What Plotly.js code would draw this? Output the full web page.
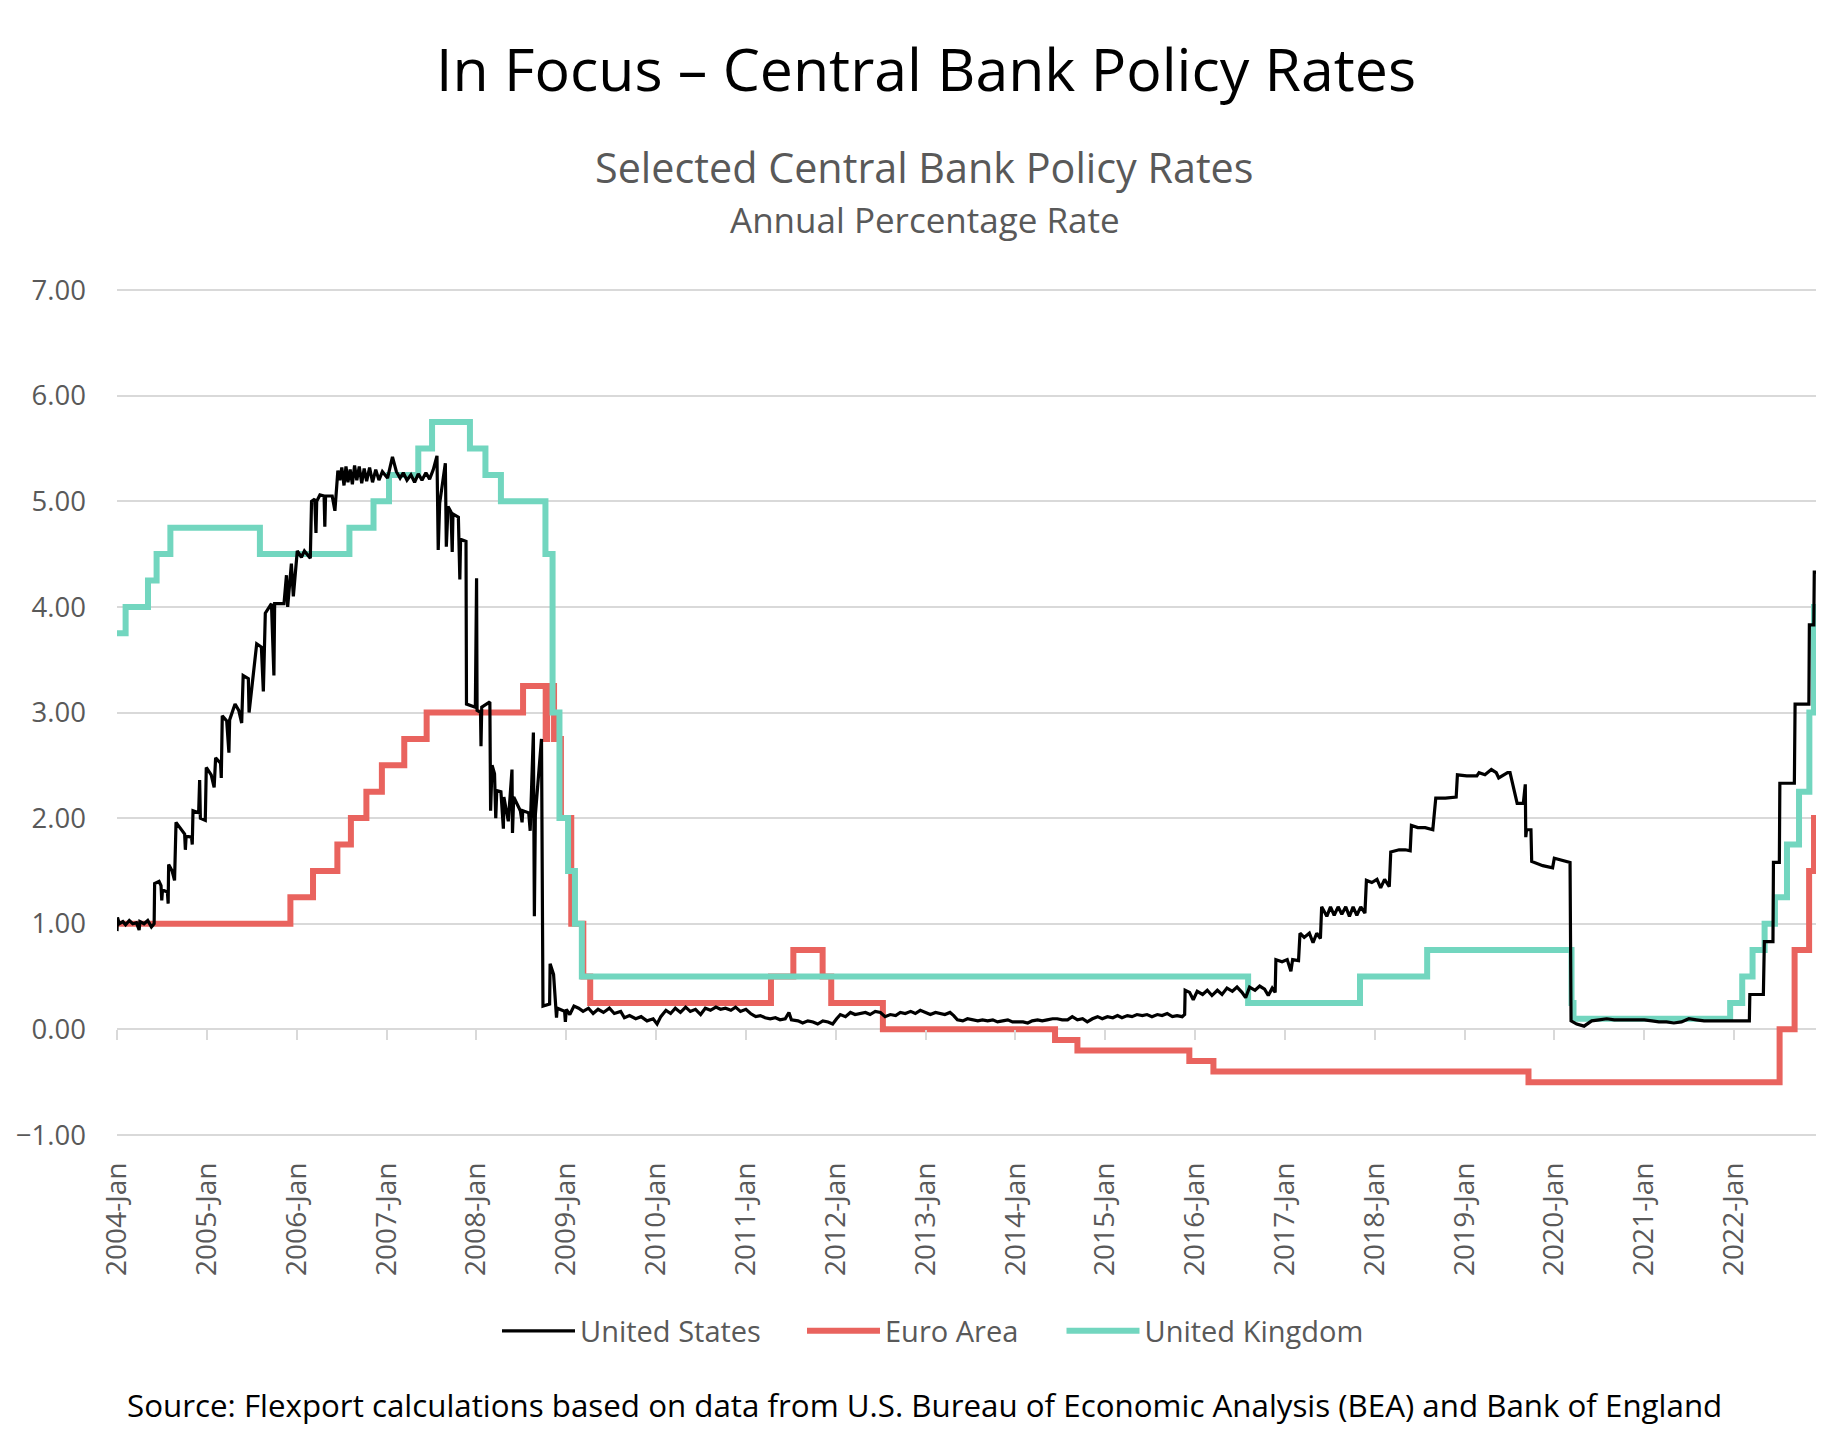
<!DOCTYPE html>
<html><head><meta charset="utf-8">
<script src="https://cdn.plot.ly/plotly-3.0.1.min.js"></script>
<style>html,body{margin:0;padding:0;background:#fff}</style>
</head><body>
<div id="chart" style="width:1845px;height:1441px"></div>
<script>
// ---------- DATA ----------
const seriesNames = ['United States', 'Euro Area', 'United Kingdom'];

const usDates = [
'2004-01-01','2004-01-03','2004-01-10','2004-01-25','2004-02-05','2004-02-20','2004-03-05','2004-03-20','2004-03-31','2004-04-03',
'2004-04-20','2004-05-05','2004-05-20','2004-05-31','2004-06-02','2004-06-20','2004-06-28','2004-07-01','2004-07-04','2004-07-24',
'2004-07-27','2004-07-29','2004-08-12','2004-08-22','2004-08-28','2004-09-20','2004-10-02','2004-10-05','2004-10-08','2004-10-30',
'2004-11-02','2004-11-05','2004-11-28','2004-12-02','2004-12-05','2004-12-25','2004-12-29','2005-01-18','2005-01-30','2005-02-05',
'2005-02-25','2005-02-28','2005-03-04','2005-03-22','2005-03-31','2005-04-03','2005-04-25','2005-05-10','2005-05-22','2005-05-28',
'2005-06-18','2005-06-21','2005-07-22','2005-08-10','2005-08-18','2005-08-26','2005-09-20','2005-09-30','2005-10-03','2005-11-10',
'2005-11-20','2005-11-25','2005-12-10','2005-12-18','2006-01-03','2006-01-20','2006-02-01','2006-02-25','2006-03-02','2006-03-15',
'2006-03-20','2006-03-23','2006-04-05','2006-04-22','2006-04-25','2006-04-28','2006-05-25','2006-06-05','2006-06-17','2006-06-25',
'2006-07-03','2006-07-12','2006-07-20','2006-07-28','2006-08-06','2006-08-15','2006-08-24','2006-09-02','2006-09-12','2006-09-22',
'2006-10-02','2006-10-12','2006-10-24','2006-11-05','2006-11-18','2006-12-01','2006-12-15','2007-01-05','2007-01-25','2007-02-10',
'2007-02-25','2007-03-10','2007-03-25','2007-04-10','2007-04-25','2007-05-10','2007-05-25','2007-06-10','2007-06-25','2007-07-10',
'2007-07-25','2007-07-30','2007-08-05','2007-08-28','2007-09-01','2007-09-08','2007-09-20','2007-09-25','2007-09-28','2007-10-20',
'2007-10-26','2007-10-29','2007-11-20','2007-11-22','2007-12-28','2008-01-02','2008-01-04','2008-01-18','2008-01-20','2008-01-23',
'2008-02-25','2008-02-28','2008-03-05','2008-03-15','2008-03-20','2008-03-24','2008-04-10','2008-04-20','2008-04-22','2008-05-10',
'2008-05-25','2008-05-27','2008-06-01','2008-06-28','2008-07-05','2008-07-08','2008-08-01','2008-08-07','2008-08-20','2008-08-24',
'2008-08-28','2008-09-22','2008-09-28','2008-10-25','2008-10-27','2008-11-10','2008-11-22','2008-11-25','2008-12-25','2008-12-28',
'2009-01-01','2009-01-15','2009-02-01','2009-02-20','2009-03-10','2009-04-01','2009-04-20','2009-05-10','2009-06-01','2009-06-25',
'2009-07-15','2009-08-10','2009-08-25','2009-09-15','2009-10-10','2009-11-01','2009-11-25','2009-12-20','2010-01-05','2010-01-20',
'2010-02-10','2010-03-01','2010-03-20','2010-04-10','2010-05-01','2010-05-20','2010-06-10','2010-07-01','2010-07-20','2010-08-10',
'2010-09-01','2010-09-20','2010-10-10','2010-11-01','2010-11-20','2010-12-10','2011-01-01','2011-01-20','2011-02-10','2011-03-01',
'2011-03-20','2011-04-10','2011-05-01','2011-05-20','2011-06-10','2011-06-25','2011-07-05','2011-08-01','2011-08-20','2011-09-10',
'2011-10-01','2011-10-20','2011-11-10','2011-12-01','2011-12-20','2012-01-05','2012-01-20','2012-02-10','2012-03-01','2012-03-20',
'2012-04-10','2012-05-01','2012-05-20','2012-06-10','2012-07-01','2012-07-20','2012-08-10','2012-09-01','2012-09-20','2012-10-10',
'2012-11-01','2012-11-20','2012-12-10','2013-01-01','2013-01-20','2013-02-10','2013-03-01','2013-03-20','2013-04-10','2013-04-25',
'2013-05-10','2013-06-01','2013-06-20','2013-07-10','2013-08-01','2013-08-20','2013-09-10','2013-10-01','2013-10-20','2013-11-10',
'2013-12-01','2013-12-20','2014-01-10','2014-02-01','2014-02-20','2014-03-10','2014-04-01','2014-04-20','2014-05-10','2014-06-01',
'2014-06-20','2014-07-10','2014-08-01','2014-08-20','2014-09-10','2014-10-01','2014-10-20','2014-11-10','2014-12-01','2014-12-20',
'2015-01-10','2015-02-01','2015-02-20','2015-03-10','2015-04-01','2015-04-20','2015-05-10','2015-06-01','2015-06-20','2015-07-10',
'2015-08-01','2015-08-20','2015-09-10','2015-10-01','2015-10-20','2015-11-10','2015-11-20','2015-11-22','2015-12-10','2015-12-25',
'2016-01-10','2016-02-01','2016-02-20','2016-03-10','2016-04-01','2016-04-20','2016-05-10','2016-06-01','2016-06-20','2016-07-10',
'2016-07-25','2016-08-10','2016-09-01','2016-09-20','2016-10-10','2016-10-25','2016-11-10','2016-11-22','2016-11-25','2016-12-20',
'2017-01-10','2017-01-25','2017-02-01','2017-02-25','2017-03-03','2017-03-20','2017-04-10','2017-04-25','2017-05-10','2017-05-25',
'2017-05-30','2017-06-20','2017-07-05','2017-07-20','2017-08-05','2017-08-20','2017-09-05','2017-09-20','2017-10-05','2017-10-20',
'2017-11-05','2017-11-22','2017-11-28','2017-12-20','2018-01-10','2018-01-25','2018-02-10','2018-03-01','2018-03-07','2018-04-10',
'2018-05-05','2018-05-25','2018-05-30','2018-06-25','2018-07-25','2018-08-25','2018-09-06','2018-10-15','2018-11-28','2018-12-03',
'2019-01-10','2019-02-20','2019-03-01','2019-03-25','2019-04-20','2019-05-10','2019-05-20','2019-06-10','2019-06-25','2019-07-05',
'2019-08-03','2019-08-28','2019-09-05','2019-09-07','2019-09-10','2019-09-28','2019-10-01','2019-11-15','2019-12-25','2020-01-01',
'2020-02-25','2020-03-05','2020-03-09','2020-04-01','2020-05-01','2020-06-01','2020-07-01','2020-08-01','2020-09-01','2020-10-01',
'2020-11-01','2020-12-01','2021-01-01','2021-02-01','2021-03-01','2021-04-01','2021-05-01','2021-06-01','2021-07-01','2021-08-01',
'2021-09-01','2021-10-01','2021-11-01','2021-12-01','2022-01-01','2022-02-01','2022-03-04','2022-03-06','2022-04-30','2022-05-04',
'2022-06-08','2022-06-10','2022-07-04','2022-07-06','2022-09-03','2022-09-06','2022-11-01','2022-11-03','2022-11-21','2022-11-23',
'2022-11-30'
];
const usRates = [
0.93,1.06,1.00,1.02,0.99,1.03,1.00,1.01,0.94,1.02,
1.00,1.03,0.97,1.00,1.38,1.40,1.36,1.22,1.32,1.30,
1.19,1.56,1.50,1.41,1.96,1.88,1.85,1.70,1.83,1.82,
1.75,2.07,2.05,2.36,2.00,1.98,2.48,2.41,2.29,2.57,
2.52,2.38,2.97,2.92,2.62,2.93,3.08,3.02,2.90,3.35,
3.32,3.00,3.65,3.62,3.20,3.94,4.03,3.35,4.03,4.03,
4.30,4.00,4.41,4.10,4.53,4.47,4.53,4.46,5.00,5.02,
4.70,5.00,5.06,5.05,4.76,5.05,5.05,4.91,5.29,5.20,
5.32,5.15,5.33,5.18,5.30,5.16,5.34,5.20,5.33,5.17,
5.31,5.19,5.32,5.18,5.30,5.20,5.28,5.22,5.42,5.28,
5.22,5.27,5.20,5.25,5.18,5.26,5.20,5.27,5.21,5.30,
5.43,4.54,4.98,5.36,4.57,4.95,4.90,4.52,4.88,4.85,
4.26,4.64,4.62,3.08,3.05,4.27,3.02,3.00,2.68,3.05,
3.10,2.07,2.50,2.42,2.00,2.26,2.25,1.90,2.20,1.97,
2.46,1.86,2.20,2.07,1.96,2.07,2.05,1.88,2.81,1.07,
2.03,2.75,0.22,0.24,0.62,0.52,0.11,0.20,0.17,0.07,
0.19,0.14,0.22,0.20,0.17,0.20,0.15,0.19,0.16,0.20,
0.15,0.17,0.11,0.13,0.10,0.12,0.08,0.10,0.05,0.12,
0.18,0.15,0.20,0.16,0.21,0.17,0.19,0.14,0.20,0.18,
0.21,0.19,0.20,0.18,0.21,0.17,0.19,0.15,0.12,0.13,
0.11,0.10,0.11,0.09,0.10,0.16,0.09,0.08,0.06,0.08,
0.07,0.05,0.08,0.07,0.05,0.10,0.14,0.12,0.16,0.14,
0.15,0.16,0.14,0.17,0.16,0.12,0.14,0.13,0.16,0.15,
0.17,0.15,0.18,0.16,0.14,0.16,0.15,0.14,0.16,0.13,
0.09,0.08,0.10,0.09,0.08,0.09,0.08,0.09,0.07,0.08,
0.09,0.07,0.07,0.07,0.06,0.08,0.09,0.08,0.09,0.10,
0.10,0.09,0.09,0.12,0.09,0.10,0.07,0.10,0.12,0.10,
0.12,0.11,0.13,0.11,0.13,0.12,0.14,0.13,0.14,0.12,
0.14,0.13,0.15,0.12,0.13,0.12,0.14,0.37,0.35,0.28,
0.36,0.33,0.37,0.32,0.37,0.33,0.39,0.36,0.40,0.35,
0.30,0.40,0.37,0.41,0.38,0.32,0.39,0.35,0.66,0.64,
0.66,0.55,0.66,0.65,0.91,0.87,0.91,0.82,0.91,0.86,
1.16,1.07,1.16,1.08,1.16,1.09,1.16,1.07,1.16,1.08,
1.16,1.10,1.41,1.39,1.42,1.34,1.42,1.35,1.68,1.70,
1.70,1.69,1.93,1.91,1.91,1.89,2.19,2.19,2.20,2.41,
2.40,2.40,2.43,2.41,2.46,2.43,2.38,2.41,2.43,2.43,
2.14,2.14,2.32,1.82,1.89,1.89,1.59,1.55,1.53,1.62,
1.58,1.58,0.08,0.05,0.03,0.08,0.09,0.10,0.09,0.09,
0.09,0.09,0.09,0.08,0.07,0.07,0.06,0.07,0.10,0.09,
0.08,0.08,0.08,0.08,0.08,0.08,0.08,0.33,0.33,0.83,
0.83,1.58,1.58,2.33,2.33,3.08,3.08,3.83,3.83,4.33,
4.33
];

const euroDates = ['2004-01-01','2005-12-06','2006-03-08','2006-06-15','2006-08-09','2006-10-11','2006-12-13','2007-03-14','2007-06-13',
'2008-07-09','2008-10-09','2008-10-15','2008-11-12','2008-12-10','2009-01-21','2009-03-11','2009-04-08','2011-04-13','2011-07-13',
'2011-11-09','2011-12-14','2012-07-11','2014-06-11','2014-09-10','2015-12-09','2016-03-16','2019-09-18','2022-07-05','2022-09-04',
'2022-11-02','2022-11-22','2022-11-30'];
const euroRates = [1.00,1.25,1.50,1.75,2.00,2.25,2.50,2.75,3.00,
3.25,2.75,3.25,2.75,2.00,1.00,0.50,0.25,0.50,0.75,
0.50,0.25,0.00,-0.10,-0.20,-0.30,-0.40,-0.50,0.00,0.75,
1.50,2.00,2.00];

const ukDates = ['2004-01-01','2004-02-05','2004-05-06','2004-06-10','2004-08-05','2005-08-04','2006-08-03','2006-11-09','2007-01-11',
'2007-05-10','2007-07-05','2007-12-06','2008-02-07','2008-04-10','2008-10-08','2008-11-06','2008-12-04','2009-01-08','2009-02-05',
'2009-03-05','2016-08-04','2017-11-02','2018-08-02','2020-03-11','2020-03-19','2021-12-16','2022-02-03','2022-03-17','2022-05-05',
'2022-06-16','2022-08-04','2022-09-22','2022-11-03','2022-11-22','2022-11-30'];
const ukRates = [3.75,4.00,4.25,4.50,4.75,4.50,4.75,5.00,5.25,
5.50,5.75,5.50,5.25,5.00,4.50,3.00,2.00,1.50,1.00,
0.50,0.25,0.50,0.75,0.25,0.10,0.25,0.50,0.75,1.00,
1.25,1.75,2.25,3.00,4.00,4.00];

const tickYears = [2004,2005,2006,2007,2008,2009,2010,2011,2012,2013,2014,2015,2016,2017,2018,2019,2020,2021,2022];
const yTickValues = [-1,0,1,2,3,4,5,6,7];

// ---------- STYLE ----------
const FONT = 'Open Sans, Noto Sans, sans-serif';
const GRID = '#d9d9d9';
const GRAYTXT = '#595959';
const colors = {us: '#000000', euro: '#E9635E', uk: '#72D6BF'};

const tickVals = tickYears.map(y => y + '-01-01');
const tickText = tickYears.map(y => y + '-Jan');
const xRange = ['2004-01-01', '2022-11-30'];
const yRange = [-1.01, 7.01];

const traces = [
  {x: euroDates, y: euroRates, name: seriesNames[1], type: 'scatter', mode: 'lines',
   line: {color: colors.euro, width: 6, shape: 'hv'}, xaxis: 'x', yaxis: 'y', legend: 'legend2'},
  {x: ukDates, y: ukRates, name: seriesNames[2], type: 'scatter', mode: 'lines',
   line: {color: colors.uk, width: 6, shape: 'hv'}, xaxis: 'x', yaxis: 'y', legend: 'legend3'},
  {x: usDates, y: usRates, name: seriesNames[0], type: 'scatter', mode: 'lines',
   line: {color: colors.us, width: 3.2}, xaxis: 'x2', yaxis: 'y', legend: 'legend'}
];

const L = 117, R = 29, T = 289, B = 305;
const plotH = 1441 - T - B, plotW = 1845 - L - R;
const py = px => (1441 - B - px) / plotH;   // page y -> paper y
const pxX = px => (px - L) / plotW;         // page x -> paper x
const zeroPos = (0 - yRange[0]) / (yRange[1] - yRange[0]);

const legendBase = (xpx) => ({orientation: 'h', x: pxX(xpx), xanchor: 'left', y: py(1331), yanchor: 'middle',
  font: {family: FONT, size: 29, color: GRAYTXT}, itemwidth: 73, bgcolor: 'rgba(0,0,0,0)', borderwidth: 0});

const layout = {
  width: 1845, height: 1441,
  margin: {l: L, r: R, t: T, b: B},
  paper_bgcolor: '#ffffff', plot_bgcolor: '#ffffff',
  font: {family: FONT, color: GRAYTXT},
  showlegend: true,
  legend: legendBase(497),
  legend2: legendBase(802),
  legend3: legendBase(1061.5),
  xaxis: {type: 'date', range: xRange, tickvals: tickVals, ticktext: tickText, tickangle: -90,
          showgrid: false, showline: false, zeroline: false, ticks: '',
          tickfont: {family: FONT, size: 28, color: GRAYTXT}, ticklabelstandoff: 20},
  xaxis2: {type: 'date', matches: 'x', overlaying: 'x', anchor: 'free', position: zeroPos,
           tickvals: tickVals, showticklabels: false, ticks: 'outside', ticklen: 10, tickwidth: 2,
           tickcolor: GRID, showgrid: false, showline: false, zeroline: false},
  yaxis: {range: yRange, tickvals: yTickValues, tickformat: '.2f', showgrid: true, gridcolor: GRID,
          gridwidth: 2, zeroline: false, showline: false, ticks: '',
          tickfont: {family: FONT, size: 27.5, color: GRAYTXT}, ticklabelstandoff: 30},
  annotations: [
    {text: 'In Focus – Central Bank Policy Rates', xref: 'paper', yref: 'paper', x: pxX(925.7), y: py(68),
     xanchor: 'center', yanchor: 'middle', showarrow: false, font: {family: FONT, size: 59, color: '#000000'}},
    {text: 'Selected Central Bank Policy Rates', xref: 'paper', yref: 'paper', x: pxX(924.7), y: py(167),
     xanchor: 'center', yanchor: 'middle', showarrow: false, font: {family: FONT, size: 41.3, color: GRAYTXT}},
    {text: 'Annual Percentage Rate', xref: 'paper', yref: 'paper', x: pxX(924.7), y: py(220),
     xanchor: 'center', yanchor: 'middle', showarrow: false, font: {family: FONT, size: 35, color: GRAYTXT}},
    {text: 'Source: Flexport calculations based on data from U.S. Bureau of Economic Analysis (BEA) and Bank of England',
     xref: 'paper', yref: 'paper', x: pxX(924), y: py(1405), xanchor: 'center', yanchor: 'middle', showarrow: false,
     font: {family: FONT, size: 31.3, color: '#000000'}}
  ]
};

Plotly.newPlot('chart', traces, layout, {displayModeBar: false, staticPlot: true});
</script>
</body></html>
